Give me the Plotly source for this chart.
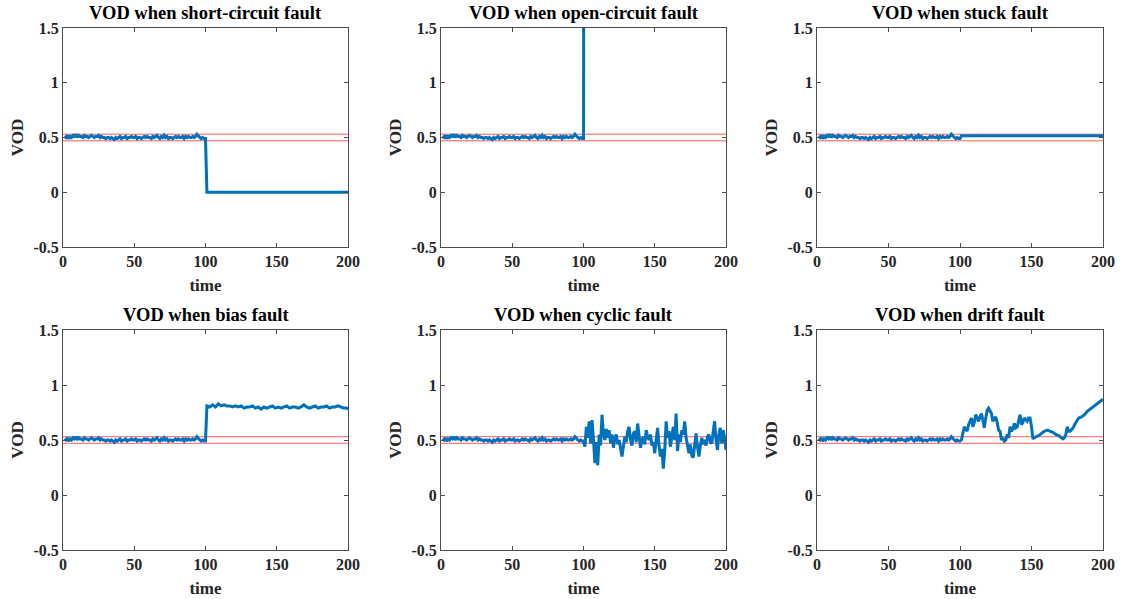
import plotly.graph_objects as go

# ---------------- data ----------------
# normal operation, t = 1..100
normal_vod = [0.51, 0.50, 0.52, 0.49, 0.51, 0.50, 0.52, 0.51, 0.53, 0.50,
              0.52, 0.51, 0.51, 0.50, 0.52, 0.51, 0.51, 0.50, 0.51, 0.52,
              0.51, 0.50, 0.51, 0.51, 0.52, 0.50, 0.51, 0.50, 0.50, 0.49,
              0.50, 0.50, 0.49, 0.50, 0.49, 0.48, 0.50, 0.49, 0.50, 0.51,
              0.49, 0.50, 0.50, 0.51, 0.49, 0.50, 0.50, 0.51, 0.50, 0.50,
              0.51, 0.49, 0.50, 0.50, 0.49, 0.50, 0.51, 0.50, 0.51, 0.50,
              0.50, 0.49, 0.51, 0.50, 0.51, 0.52, 0.50, 0.49, 0.51, 0.50,
              0.52, 0.50, 0.51, 0.49, 0.50, 0.50, 0.49, 0.50, 0.51, 0.50,
              0.51, 0.50, 0.50, 0.51, 0.49, 0.51, 0.50, 0.51, 0.50, 0.50,
              0.51, 0.50, 0.51, 0.53, 0.51, 0.50, 0.49, 0.50, 0.49, 0.49]
normal_t = list(range(1, 101))

short_t = [101, 200]
short_vod = [0.0, 0.0]

open_t = [101, 200]
open_vod = [10.0, 10.0]

stuck_t = [101, 200]
stuck_vod = [0.515, 0.515]

bias_t = [101, 103, 105, 107, 109, 111, 113, 115, 117, 119, 121, 123, 125, 127,
          129, 131, 133, 135, 137, 139, 141, 143, 145, 147, 149, 151, 153, 155,
          157, 159, 161, 163, 165, 167, 169, 171, 173, 175, 177, 179, 181, 183,
          185, 187, 189, 191, 193, 195, 197, 199, 200]
bias_vod = [0.81, 0.80, 0.82, 0.80, 0.83, 0.81, 0.82, 0.81, 0.81, 0.80, 0.81,
            0.80, 0.81, 0.79, 0.80, 0.80, 0.81, 0.79, 0.80, 0.78, 0.80, 0.79,
            0.80, 0.81, 0.79, 0.80, 0.79, 0.80, 0.81, 0.79, 0.80, 0.80, 0.79,
            0.80, 0.82, 0.80, 0.79, 0.80, 0.81, 0.79, 0.80, 0.80, 0.81, 0.79,
            0.80, 0.80, 0.81, 0.80, 0.79, 0.79, 0.78]

cyclic_t = list(range(101, 201))
cyclic_vod = [0.44, 0.62, 0.52, 0.67, 0.47, 0.68, 0.50, 0.29, 0.48, 0.27,
              0.55, 0.45, 0.73, 0.55, 0.50, 0.60, 0.52, 0.59, 0.47, 0.55,
              0.43, 0.52, 0.55, 0.46, 0.50, 0.40, 0.35, 0.44, 0.53, 0.48,
              0.58, 0.62, 0.50, 0.45, 0.56, 0.58, 0.48, 0.65, 0.55, 0.43,
              0.50, 0.53, 0.46, 0.59, 0.53, 0.50, 0.55, 0.45, 0.48, 0.38,
              0.50, 0.61, 0.45, 0.35, 0.42, 0.24, 0.40, 0.67, 0.52, 0.58,
              0.44, 0.55, 0.62, 0.50, 0.74, 0.40, 0.55, 0.48, 0.59, 0.55,
              0.67, 0.52, 0.45, 0.38, 0.46, 0.36, 0.34, 0.45, 0.56, 0.44,
              0.35, 0.45, 0.52, 0.46, 0.50, 0.45, 0.53, 0.55, 0.48, 0.47,
              0.55, 0.67, 0.50, 0.41, 0.55, 0.61, 0.47, 0.59, 0.52, 0.41]

drift_t = [101, 103, 104, 105, 106, 107, 108, 109, 110, 111, 112, 113, 114,
           115, 116, 117, 118, 119, 120, 121, 122, 123, 124, 125, 126, 127,
           128, 129, 130, 131, 132, 133, 134, 135, 136, 137, 138, 139, 140,
           141, 142, 143, 144, 145, 146, 147, 148, 149, 150, 151, 153, 155,
           157, 159, 161, 163, 165, 167, 169, 171, 172, 173, 174, 175, 176,
           177, 179, 181, 183, 185, 187, 189, 191, 193, 195, 197, 200]
drift_vod = [0.50, 0.62, 0.60, 0.58, 0.64, 0.68, 0.70, 0.62, 0.66, 0.73,
             0.70, 0.67, 0.71, 0.74, 0.68, 0.61, 0.70, 0.77, 0.79, 0.76,
             0.74, 0.67, 0.69, 0.71, 0.66, 0.59, 0.58, 0.50, 0.52, 0.49,
             0.50, 0.55, 0.52, 0.62, 0.58, 0.60, 0.65, 0.61, 0.62, 0.68,
             0.73, 0.64, 0.66, 0.70, 0.68, 0.67, 0.70, 0.70, 0.62, 0.51,
             0.53, 0.54, 0.56, 0.58, 0.59, 0.58, 0.57, 0.55, 0.54, 0.52,
             0.51, 0.52, 0.55, 0.62, 0.58, 0.58, 0.61, 0.66, 0.70, 0.71,
             0.73, 0.76, 0.78, 0.80, 0.82, 0.84, 0.87]

threshold_upper = 0.53
threshold_lower = 0.47

titles = ["VOD when short-circuit fault", "VOD when open-circuit fault",
          "VOD when stuck fault", "VOD when bias fault",
          "VOD when cyclic fault", "VOD when drift fault"]
faults = [(short_t, short_vod), (open_t, open_vod), (stuck_t, stuck_vod),
          (bias_t, bias_vod), (cyclic_t, cyclic_vod), (drift_t, drift_vod)]

x_ticks = [0, 50, 100, 150, 200]
y_ticks = [-0.5, 0, 0.5, 1, 1.5]
y_tick_text = ["-0.5", "0", "0.5", "1", "1.5"]

# ---------------- figure ----------------
W, H = 1131, 599
col_px = [(63, 348), (441, 726), (817, 1103)]
row_px = [(28, 247), (330, 550)]

FONT = "Liberation Serif"
AX_COLOR = "#4d4d4d"
BLUE = "#0072BD"
RED = "rgba(255,40,40,0.75)"

fig = go.Figure()
layout = dict(width=W, height=H, margin=dict(l=0, r=0, t=0, b=0, autoexpand=False),
              plot_bgcolor="white", paper_bgcolor="white", showlegend=False,
              font=dict(family=FONT, color="#262626"))
annotations = []

for i, (title, (ft, fv)) in enumerate(zip(titles, faults)):
    r, c = divmod(i, 3)
    xa = "x" if i == 0 else f"x{i+1}"
    ya = "y" if i == 0 else f"y{i+1}"
    xkey = "xaxis" if i == 0 else f"xaxis{i+1}"
    ykey = "yaxis" if i == 0 else f"yaxis{i+1}"
    x0, x1 = col_px[c]
    y0, y1 = row_px[r]
    t_all = normal_t + ft
    v_all = normal_vod + fv
    fig.add_trace(go.Scatter(x=[0, 200], y=[threshold_upper] * 2, mode="lines",
                             line=dict(color=RED, width=1), xaxis=xa, yaxis=ya))
    fig.add_trace(go.Scatter(x=[0, 200], y=[threshold_lower] * 2, mode="lines",
                             line=dict(color=RED, width=1), xaxis=xa, yaxis=ya))
    fig.add_trace(go.Scatter(x=t_all, y=v_all, mode="lines",
                             line=dict(color=BLUE, width=3), xaxis=xa, yaxis=ya))
    layout[xkey] = dict(domain=[x0 / W, x1 / W], range=[0, 200], anchor=ya,
                        automargin=False,
                        tickvals=x_ticks, ticktext=[f"<b>{v}</b>" for v in x_ticks],
                        ticks="inside", ticklen=4, tickcolor=AX_COLOR,
                        showline=True, linecolor=AX_COLOR, linewidth=1, mirror="ticks",
                        showgrid=False, zeroline=False,
                        tickfont=dict(family=FONT, size=16, color="#262626"),
                        title=dict(text="<b>time</b>", font=dict(family=FONT, size=17, color="#262626"),
                                   standoff=9))
    layout[ykey] = dict(domain=[1 - y1 / H, 1 - y0 / H], range=[-0.5, 1.5], anchor=xa,
                        automargin=False,
                        tickvals=y_ticks, ticktext=[f"<b>{s}</b>" for s in y_tick_text],
                        ticks="inside", ticklen=4, tickcolor=AX_COLOR,
                        showline=True, linecolor=AX_COLOR, linewidth=1, mirror="ticks",
                        showgrid=False, zeroline=False,
                        tickfont=dict(family=FONT, size=16, color="#262626"),
                        title=dict(text="<b>VOD</b>", font=dict(family=FONT, size=17, color="#262626"),
                                   standoff=5))
    annotations.append(dict(text=f"<b>{title}</b>", x=(x0 + x1) / 2 / W, y=1 - (y0 - 3) / H,
                            xref="paper", yref="paper", xanchor="center", yanchor="bottom",
                            showarrow=False, font=dict(family=FONT, size=18.5, color="black")))

layout["annotations"] = annotations
fig.update_layout(**layout)
fig.write_html("out.html", config={"displayModeBar": False},
               post_script="document.body.style.margin='0px';document.body.style.overflow='hidden';")
